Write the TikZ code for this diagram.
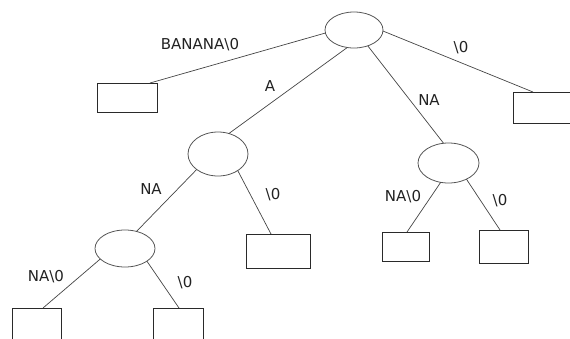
\documentclass[tikz,border=0pt]{standalone}
\usepackage{fontspec}
\setmainfont{DejaVu Sans}
\usetikzlibrary{shapes.geometric}
\definecolor{edgecol}{HTML}{444444}
\definecolor{ellcol}{HTML}{555555}
\definecolor{boxcol}{HTML}{2A2A2A}
\definecolor{lblcol}{HTML}{222222}
\begin{document}
\begin{tikzpicture}[x=1pt,y=-1pt,
  inode/.style={draw=ellcol,line width=0.8pt,ellipse,inner sep=0pt,outer sep=0pt},
  leaf/.style={draw=boxcol,line width=0.9pt,rectangle,inner sep=0pt,outer sep=0pt},
  conn/.style={draw=edgecol,line width=0.7pt},
  lbl/.style={text=lblcol,font=\fontsize{15}{17}\selectfont,inner sep=0pt}]
\useasboundingbox (0,0) rectangle (570,338);
\clip (0,0) rectangle (570,338);
% internal nodes
\node[inode,minimum width=58pt,minimum height=36pt] (root) at (354,30) {};
\node[inode,minimum width=60pt,minimum height=44pt] (a) at (218,154) {};
\node[inode,minimum width=61pt,minimum height=40pt] (n) at (448.5,163) {};
\node[inode,minimum width=60pt,minimum height=37pt] (ll) at (125,248.5) {};
% leaves
\node[leaf,minimum width=60pt,minimum height=29pt] (b1) at (127,97.5) {};
\node[leaf,minimum width=64pt,minimum height=31pt] (b2) at (545,107.5) {};
\node[leaf,minimum width=64pt,minimum height=34pt] (bm) at (278,251) {};
\node[leaf,minimum width=49pt,minimum height=44pt] (bl1) at (36.5,330) {};
\node[leaf,minimum width=50pt,minimum height=44pt] (bl2) at (178,330) {};
\node[leaf,minimum width=47pt,minimum height=29pt] (br1) at (405.5,246.5) {};
\node[leaf,minimum width=49pt,minimum height=33pt] (br2) at (503.5,246.5) {};
% connectors
\draw[conn] (root.186) -- ([xshift=-7pt]b1.north east);
\draw[conn] (root.249) -- (a.62);
\draw[conn] (root.311) -- (n.104);
\draw[conn] (root.358) -- ([xshift=20pt]b2.north west);
\draw[conn] (a.216) -- (ll.56);
\draw[conn] (a.320) -- ([xshift=25pt]bm.north west);
\draw[conn] (ll.203) -- ([xshift=31pt]bl1.north west);
\draw[conn] (ll.330) -- ([xshift=26pt]bl2.north west);
\draw[conn] (n.248) -- ([xshift=25pt]br1.north west);
\draw[conn] (n.318) -- ([xshift=21pt]br2.north west);
% labels
\node[lbl] (t1) at (200,45) {BANANA\textbackslash 0};
\node[lbl] (t2) at (270,86) {A};
\node[lbl] (t3) at (461,48) {\textbackslash 0};
\node[lbl] (t4) at (429,100) {NA};
\node[lbl] (t5) at (151,189) {NA};
\node[lbl] (t6) at (273,195) {\textbackslash 0};
\node[lbl] (t7) at (46,277) {NA\textbackslash 0};
\node[lbl] (t8) at (185,283) {\textbackslash 0};
\node[lbl] (t9) at (403,197) {NA\textbackslash 0};
\node[lbl] (t10) at (500,201) {\textbackslash 0};
\end{tikzpicture}
\end{document}
